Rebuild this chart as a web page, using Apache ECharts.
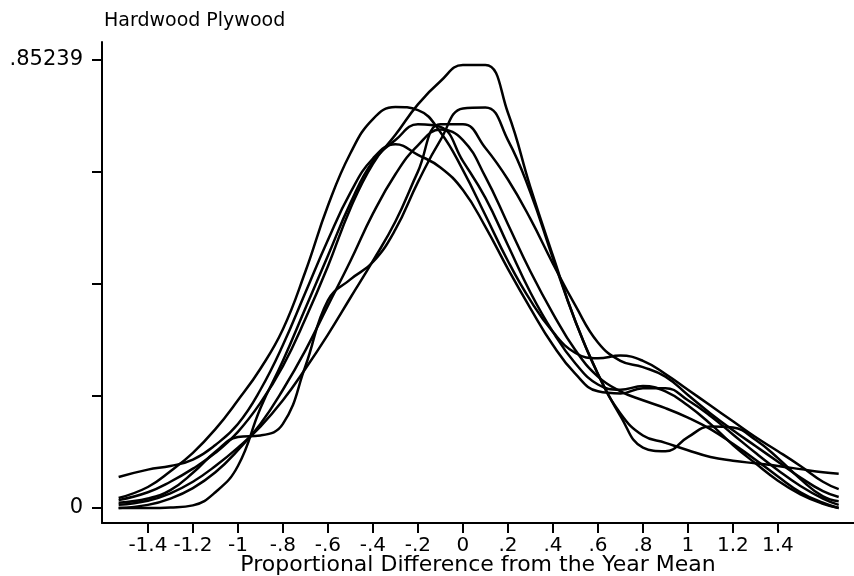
<!DOCTYPE html>
<html>
<head>
<meta charset="utf-8">
<title>Hardwood Plywood</title>
<script src="https://cdn.jsdelivr.net/npm/echarts@6/dist/echarts.min.js"></script>
<style>
  html, body { margin: 0; padding: 0; background: #fff; }
  #chart { width: 854px; height: 576px; }
</style>
</head>
<body>
<div id="chart"></div>
<script>
// Evaluation points (proportional difference from the year mean)
const xs = [-1.53, -1.4, -1.3, -1.2, -1.1, -1.0, -0.9, -0.8, -0.7, -0.6, -0.5, -0.4, -0.3, -0.2, -0.1, 0,
            0.1, 0.2, 0.3, 0.4, 0.5, 0.6, 0.7, 0.8, 0.9, 1.0, 1.1, 1.2, 1.3, 1.4, 1.5, 1.6, 1.67];

// Kernel density estimates, one per year
const densA = [0.015, 0.03, 0.05, 0.075, 0.105, 0.145, 0.2, 0.27, 0.36, 0.46, 0.57, 0.655, 0.71, 0.768, 0.812, 0.843,
               0.843, 0.752, 0.61, 0.48, 0.355, 0.255, 0.175, 0.115, 0.108, 0.135, 0.155, 0.153, 0.13, 0.095, 0.055, 0.022, 0.013];
const densB = [0.01, 0.018, 0.034, 0.067, 0.107, 0.135, 0.138, 0.16, 0.27, 0.395, 0.435, 0.468, 0.53, 0.62, 0.70, 0.76,
               0.762, 0.70, 0.60, 0.475, 0.355, 0.255, 0.18, 0.138, 0.124, 0.11, 0.097, 0.09, 0.085, 0.08, 0.074, 0.068, 0.065];
const densC = [0.019, 0.04, 0.07, 0.105, 0.15, 0.205, 0.265, 0.34, 0.45, 0.575, 0.675, 0.74, 0.763, 0.757, 0.715, 0.643,
               0.557, 0.47, 0.395, 0.335, 0.295, 0.285, 0.29, 0.28, 0.255, 0.225, 0.195, 0.165, 0.135, 0.108, 0.08, 0.05, 0.036];
const densD = [0.006, 0.014, 0.028, 0.05, 0.08, 0.115, 0.155, 0.205, 0.265, 0.33, 0.4, 0.47, 0.545, 0.64, 0.73, 0.73,
               0.685, 0.625, 0.55, 0.465, 0.385, 0.315, 0.28, 0.268, 0.25, 0.215, 0.18, 0.148, 0.118, 0.088, 0.058, 0.032, 0.021];
const densE = [0.0, 0.0, 0.001, 0.005, 0.03, 0.08, 0.19, 0.28, 0.38, 0.48, 0.58, 0.66, 0.70, 0.73, 0.725, 0.66,
               0.59, 0.5, 0.41, 0.335, 0.275, 0.235, 0.225, 0.232, 0.222, 0.195, 0.16, 0.12, 0.085, 0.052, 0.026, 0.008, 0.0];
const densF = [0.059, 0.073, 0.08, 0.092, 0.12, 0.16, 0.225, 0.31, 0.41, 0.51, 0.60, 0.665, 0.692, 0.672, 0.648, 0.605,
               0.535, 0.455, 0.38, 0.31, 0.255, 0.222, 0.218, 0.228, 0.228, 0.205, 0.175, 0.14, 0.105, 0.072, 0.042, 0.018, 0.006];
const densG = [0.0, 0.006, 0.018, 0.038, 0.068, 0.11, 0.16, 0.225, 0.3, 0.385, 0.47, 0.56, 0.635, 0.69, 0.72, 0.7,
               0.63, 0.54, 0.45, 0.37, 0.3, 0.25, 0.222, 0.205, 0.19, 0.172, 0.15, 0.122, 0.092, 0.06, 0.03, 0.01, 0.0];

const densities = [densA, densB, densC, densD, densE, densF, densG];

// Axis ticks and labels
const xTicks = [-1.4, -1.2, -1, -0.8, -0.6, -0.4, -0.2, 0, 0.2, 0.4, 0.6, 0.8, 1, 1.2, 1.4];
const yMax = 0.85239;
const yTicks = [0, yMax / 4, yMax / 2, 3 * yMax / 4, yMax];
const yLabels = [0, yMax];

const chartTitle = 'Hardwood Plywood';
const xTitle = 'Proportional Difference from the Year Mean';

// Stata-style number text: no leading zero
function stataNum(v) {
  let s = String(Math.round(v * 100000) / 100000);
  s = s.replace(/^(-?)0\./, '$1.');
  return s;
}

const FONT = 'DejaVu Sans';
const chart = echarts.init(document.getElementById('chart'), null, { renderer: 'canvas' });

chart.setOption({
  animation: false,
  backgroundColor: '#fff',
  title: {
    text: chartTitle,
    left: 99,
    top: 7,
    textStyle: { fontFamily: FONT, fontSize: 19, fontWeight: 'normal', color: '#000' }
  },
  grid: { left: 102, right: 0, top: 42, bottom: 53, outerBoundsMode: 'none', containLabel: false },
  xAxis: {
    type: 'value',
    min: -1.604,
    max: 1.738,
    splitLine: { show: false },
    axisLine: { show: true, onZero: false, lineStyle: { color: '#000', width: 2 } },
    axisTick: { show: true, customValues: xTicks, length: 10, lineStyle: { color: '#000', width: 2 } },
    axisLabel: {
      customValues: xTicks,
      formatter: v => stataNum(v),
      margin: 13,
      fontFamily: FONT, fontSize: 20, color: '#000'
    },
    name: xTitle,
    nameLocation: 'middle',
    nameGap: 31,
    nameMoveOverlap: false,
    nameTextStyle: { fontFamily: FONT, fontSize: 22, color: '#000' }
  },
  yAxis: {
    type: 'value',
    min: -0.0285,
    max: 0.8866,
    splitLine: { show: false },
    axisLine: { show: true, onZero: false, lineStyle: { color: '#000', width: 2 } },
    axisTick: { show: true, customValues: yTicks, length: 10, lineStyle: { color: '#000', width: 2 } },
    axisLabel: {
      customValues: yLabels,
      formatter: v => stataNum(v),
      margin: 19,
      fontFamily: FONT, fontSize: 21, color: '#000'
    }
  },
  series: densities.map((d, i) => ({
    type: 'line',
    name: 'year' + (i + 1),
    data: xs.map((x, k) => [x, d[k]]),
    smooth: 0.45,
    symbol: 'none',
    lineStyle: { color: '#000', width: 2.5 },
    emphasis: { disabled: true }
  }))
});
</script>
</body>
</html>
